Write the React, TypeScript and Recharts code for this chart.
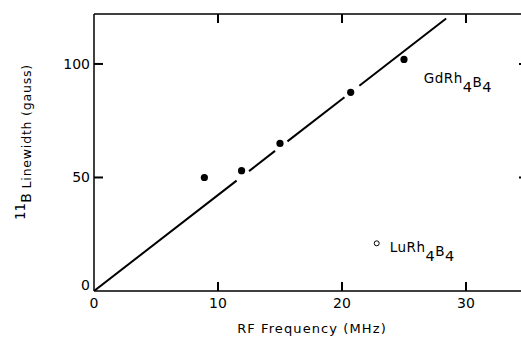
import React from 'react';
import { ComposedChart, Line, Scatter, XAxis, YAxis, Label } from 'recharts';

// GdRh4B4 measured linewidths (filled dots)
const gdFreq = [8.9, 11.9, 15.0, 20.7, 25.0];
const gdWidth = [50, 53, 65, 87.5, 102];
// LuRh4B4 (open circle)
const luFreq = [22.8];
const luWidth = [21];
// Fitted straight line, drawn in broken segments around the dots
const fitStartX = [0, 12.5, 15.6, 21.4];
const fitStartY = [0, 52.8, 65.9, 90.4];
const fitEndX = [11.5, 14.6, 20.2, 28.4];
const fitEndY = [48.6, 61.7, 85.3, 120];
// Annotations
const annBase = ['GdRh', 'LuRh'];
const annX = [26.6, 23.85];
const annY = [91.4, 17.3];
// Ticks
const xTicks = [0, 10, 20, 30];
const xTopTicks = [10, 20, 30];
const yTicks = [0, 50, 100];
const yRightTicks = [50, 100];

const gdData = gdFreq.map((x, i) => ({ x, y: gdWidth[i] }));
const luData = luFreq.map((x, i) => ({ x, y: luWidth[i] }));
const fitSegments = fitStartX.map((x, i) => [
  { x, y: fitStartY[i] },
  { x: fitEndX[i], y: fitEndY[i] },
]);
const annData = annBase.map((name, i) => ({ x: annX[i], y: annY[i], name }));
const emptyData: { x: number; y: number }[] = [];

const FONT = '"DejaVu Sans", sans-serif';
const TICK = 9;
const TW = 2;

const BottomTick = (p: any) => {
  const { x, y, payload } = p;
  return (
    <g>
      {payload.value !== 0 && (
        <line x1={x} x2={x} y1={y} y2={y - TICK} stroke="#000" strokeWidth={TW} />
      )}
      <text x={x} y={y + 17} textAnchor="middle" fontFamily={FONT} fontSize={14} fill="#000">
        {payload.value}
      </text>
    </g>
  );
};

const TopTick = (p: any) => (
  <g>
    <line x1={p.x} x2={p.x} y1={p.y} y2={p.y + TICK} stroke="#000" strokeWidth={TW} />
  </g>
);

const LeftTick = (p: any) => {
  const { x, y, payload } = p;
  const shift = payload.value === 0 ? -6 : 0;
  return (
    <g>
      {payload.value !== 0 && (
        <line x1={x} x2={x + TICK} y1={y} y2={y} stroke="#000" strokeWidth={TW} />
      )}
      <text x={x - 4} y={y + shift + 5} textAnchor="end" fontFamily={FONT} fontSize={14} fill="#000">
        {payload.value}
      </text>
    </g>
  );
};

const RightTick = (p: any) => (
  <g>
    <line x1={p.x} x2={p.x - TICK} y1={p.y} y2={p.y} stroke="#000" strokeWidth={TW} />
  </g>
);

const DotShape = (p: any) => <circle cx={p.cx} cy={p.cy} r={3.6} fill="#000" />;
const OpenShape = (p: any) => (
  <circle cx={p.cx} cy={p.cy} r={2.5} fill="#fff" stroke="#000" strokeWidth={1} />
);
const NoShape = () => <g />;
const AnnShape = (p: any) => (
  <text x={p.cx} y={p.cy} fontFamily={FONT} fontSize={13.5} fill="#000" letterSpacing={0.5}>
    <tspan>{p.payload.name}</tspan>
    <tspan dy={9} fontSize={14.5}>4</tspan>
    <tspan dy={-5} fontSize={13.5}>B</tspan>
    <tspan dy={5} fontSize={14.5}>4</tspan>
  </text>
);

const XLabel = () => (
  <text x={312} y={333} textAnchor="middle" fontFamily={FONT} fontSize={13} letterSpacing={1.1} fill="#000">
    RF Frequency (MHz)
  </text>
);

const YLabel = () => (
  <text transform="translate(31, 142) rotate(-90)" textAnchor="middle" fontFamily={FONT} fill="#000">
    <tspan fontSize={13.5} dy={-6}>11</tspan>
    <tspan fontSize={14} dy={6}>B</tspan>
    <tspan fontSize={12.5} letterSpacing={0.8}> Linewidth (gauss)</tspan>
  </text>
);

export default function App() {
  return (
    <div
      style={{
        position: 'fixed',
        left: 0,
        top: 0,
        width: 521,
        height: 337,
        overflow: 'hidden',
        background: '#fff',
      }}
    >
      <ComposedChart width={540} height={337} margin={{ top: 13, right: 11, bottom: 0, left: 0 }}>
        <XAxis
          dataKey="x"
          type="number"
          domain={[0, 35]}
          ticks={xTicks}
          allowDataOverflow
          height={46}
          tickSize={0}
          tickMargin={0}
          tickLine={false}
          tick={BottomTick}
          axisLine={{ stroke: '#000', strokeWidth: 1.5 }}
        >
          <Label content={XLabel} />
        </XAxis>
        <XAxis
          xAxisId="top"
          orientation="top"
          dataKey="x"
          type="number"
          domain={[0, 35]}
          ticks={xTopTicks}
          allowDataOverflow
          height={1}
          tickSize={0}
          tickMargin={0}
          tickLine={false}
          tick={TopTick}
          axisLine={{ stroke: '#000', strokeWidth: 1.5 }}
        />
        <YAxis
          dataKey="y"
          type="number"
          domain={[0, 122]}
          ticks={yTicks}
          allowDataOverflow
          width={94}
          tickSize={0}
          tickMargin={0}
          tickLine={false}
          tick={LeftTick}
          axisLine={{ stroke: '#000', strokeWidth: 1.5 }}
        >
          <Label content={YLabel} />
        </YAxis>
        <YAxis
          yAxisId="right"
          orientation="right"
          dataKey="y"
          type="number"
          domain={[0, 122]}
          ticks={yRightTicks}
          allowDataOverflow
          width={1}
          tickSize={0}
          tickMargin={0}
          tickLine={false}
          tick={RightTick}
          axisLine={{ stroke: '#000', strokeWidth: 1.5 }}
        />
        {fitSegments.map((seg, i) => (
          <Line
            key={i}
            data={seg}
            dataKey="y"
            type="linear"
            dot={false}
            activeDot={false}
            stroke="#000"
            strokeWidth={2}
            isAnimationActive={false}
          />
        ))}
        <Scatter data={gdData} dataKey="y" shape={DotShape} isAnimationActive={false} />
        <Scatter data={luData} dataKey="y" shape={OpenShape} isAnimationActive={false} />
        <Scatter data={annData} dataKey="y" shape={AnnShape} isAnimationActive={false} />
        <Scatter
          data={emptyData}
          xAxisId="top"
          yAxisId="right"
          dataKey="y"
          shape={NoShape}
          isAnimationActive={false}
        />
      </ComposedChart>
    </div>
  );
}
